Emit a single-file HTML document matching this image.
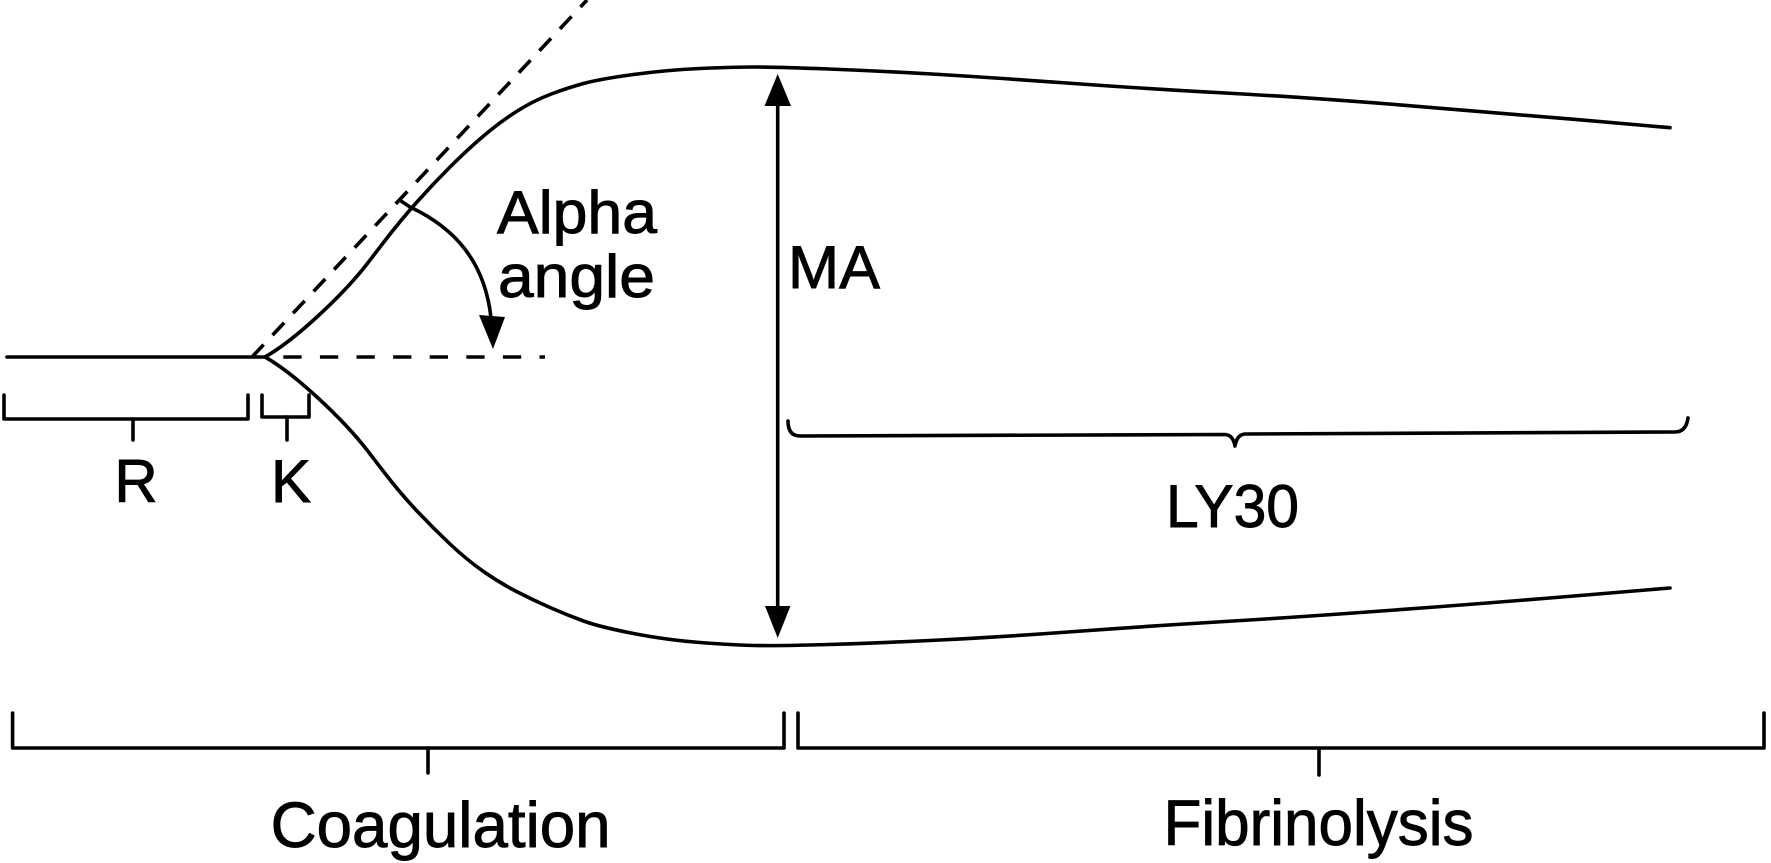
<!DOCTYPE html>
<html>
<head>
<meta charset="utf-8">
<style>
  html, body { margin:0; padding:0; background:#fff; }
  body { width:1771px; height:863px; overflow:hidden; }
  svg { display:block; }
  text { font-family: "Liberation Sans", "DejaVu Sans", sans-serif; fill:#000; stroke:#000; stroke-width:0.9; }
</style>
</head>
<body>
<svg width="1771" height="863" viewBox="0 0 1771 863" xmlns="http://www.w3.org/2000/svg">
  <rect x="0" y="0" width="1771" height="863" fill="#fff"/>
  <g fill="none" stroke="#000" stroke-width="3.6" stroke-linecap="round" stroke-linejoin="round">
    <!-- baseline -->
    <path d="M7,357 L265,357"/>
    <!-- upper curve -->
    <path d="M265,357 C295,340 342,296 367,264 L383.5,242.5 Q400,221 416.5,202.5 Q433,184 450,167 Q467,150 483.5,136 Q500,122 516.5,111.5 Q533,101 550,94.5 Q567,88 583.5,83.5 Q600,79 633.5,74.5 Q667,70 700,68.5 Q733,67 755,67 Q777,67 828.5,69 Q880,71 931.5,74 Q983,77 1066.5,83 Q1150,89 1225,93 Q1300,97 1395,104.5 Q1490,112 1580,119.85 L1670,127.7"/>
    <!-- lower curve -->
    <path d="M265,357 C295,374 342,418 367,450 L383.5,471.5 Q400,493 416.5,510.5 Q433,528 450,544 Q467,560 483.5,571.5 Q500,583 516.5,591.5 Q533,600 550,607.5 Q567,615 583.5,621 Q600,627 633.5,633.5 Q667,640 700,642.5 Q733,645 755,645.5 Q777,646 828.5,644.5 Q880,643 940,640 Q1000,637 1075,631.5 Q1150,626 1225,621.5 Q1300,617 1395,610 Q1490,603 1580,595.5 L1670,588"/>
    <!-- dashed horizontal -->
    <path d="M283.3,357 L545,357" stroke-dasharray="18.3 18.3" stroke-linecap="butt"/>
    <!-- dashed tangent -->
    <path d="M252,357 L587,0" stroke-dasharray="17 13" stroke-linecap="butt"/>
    <!-- alpha arc -->
    <path d="M401,201 L410,207 C455,228 485,262 491,318"/>
    <!-- MA line -->
    <path d="M777.7,95 L777.7,617"/>
    <!-- LY30 brace -->
    <path d="M788,421 Q788,436 800,436 L1225,434.5 Q1233,435 1235,446 Q1237,434.5 1245,434 L1675,432 Q1686,432 1688,418"/>
    <!-- R bracket -->
    <path d="M4,395 L4,419 L248,419 L248,395"/>
    <path d="M133,419 L133,440"/>
    <!-- K bracket -->
    <path d="M262,395 L262,417 L309,417 L309,395"/>
    <path d="M287,417 L287,440"/>
    <!-- Coagulation bracket -->
    <path d="M12.6,713 L12.6,748 L784,748 L784,713"/>
    <path d="M428,748 L428,773"/>
    <!-- Fibrinolysis bracket -->
    <path d="M798,713 L798,748 L1764,748 L1764,713"/>
    <path d="M1319,748 L1319,775"/>
  </g>
  <g fill="#000" stroke="none">
    <!-- alpha arrowhead -->
    <polygon points="479,315 505,317 493,349"/>
    <!-- MA arrowheads -->
    <polygon points="777.7,74 764.5,106 791,106"/>
    <polygon points="777.7,638 765,606 790.5,606"/>
  </g>
  <text x="136" y="502" font-size="60" text-anchor="middle">R</text>
  <text x="291" y="502" font-size="60" text-anchor="middle">K</text>
  <text x="497" y="233" font-size="60" textLength="160" lengthAdjust="spacingAndGlyphs">Alpha</text>
  <text x="498" y="297" font-size="60" textLength="157" lengthAdjust="spacingAndGlyphs">angle</text>
  <text x="788" y="288" font-size="60" textLength="92" lengthAdjust="spacingAndGlyphs">MA</text>
  <text x="1166" y="527" font-size="60" textLength="133" lengthAdjust="spacingAndGlyphs">LY30</text>
  <text x="440.6" y="847" font-size="64" text-anchor="middle" textLength="340" lengthAdjust="spacingAndGlyphs">Coagulation</text>
  <text x="1318.5" y="845" font-size="64" text-anchor="middle" textLength="310" lengthAdjust="spacingAndGlyphs">Fibrinolysis</text>
</svg>
</body>
</html>
